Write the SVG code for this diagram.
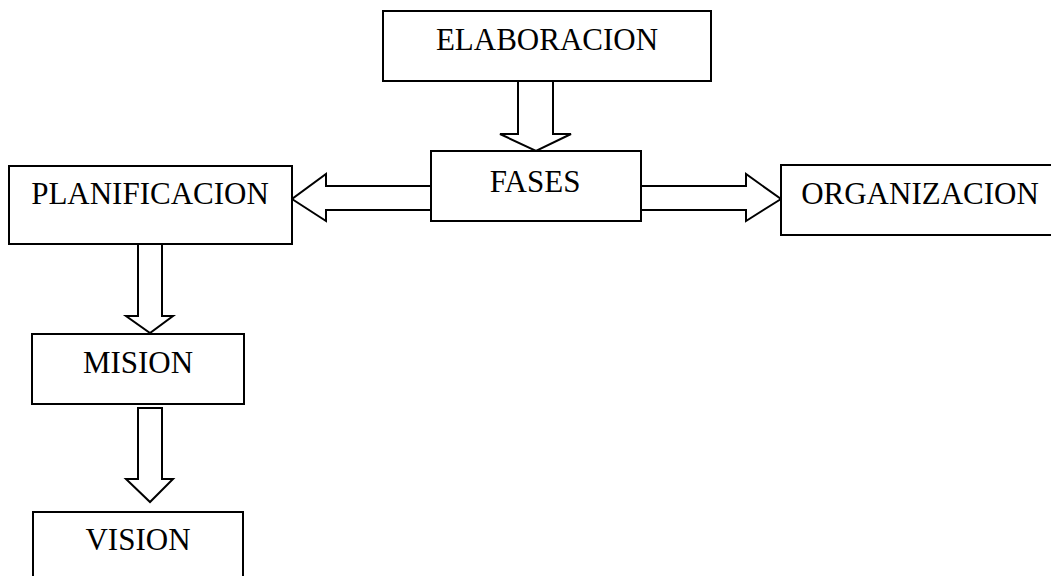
<svg xmlns="http://www.w3.org/2000/svg" width="1051" height="576" viewBox="0 0 1051 576">
<style>
.box{fill:#fff;stroke:#000;stroke-width:2}
.arr{fill:#fff;stroke:#000;stroke-width:2;stroke-linejoin:miter}
.lbl{font-family:"Liberation Serif","Times New Roman",serif;font-size:31px;fill:#000;text-anchor:middle}
</style>
<rect width="1051" height="576" fill="#fff"/>
<g id="connectors">
<path class="arr" d="M518,81 V134 H500 L536,151 L571,134 H553 V81"/>
<path class="arr" d="M431,186 H326 V174 L292,199 L326,221 V210 H431"/>
<path class="arr" d="M641,186 H746 V174 L781,199 L746,221 V210 H641"/>
<path class="arr" d="M138,244 V316 H126 L150,333 L173,316 H162 V244"/>
<path class="arr" d="M138,408 V479 H126 L150,502 L173,479 H162 V408 Z"/>
</g>
<g id="elaboracion">
<rect class="box" x="383" y="11" width="328" height="70"/>
<text class="lbl" x="547" y="50">ELABORACION</text>
</g>
<g id="fases">
<rect class="box" x="431" y="151" width="210" height="70"/>
<text class="lbl" x="535" y="192">FASES</text>
</g>
<g id="planificacion">
<rect class="box" x="9" y="166" width="283" height="78"/>
<text class="lbl" x="150" y="204">PLANIFICACION</text>
</g>
<g id="organizacion">
<rect class="box" x="781" y="165" width="280" height="70"/>
<text class="lbl" x="920" y="204">ORGANIZACION</text>
</g>
<g id="mision">
<rect class="box" x="32" y="334" width="212" height="70"/>
<text class="lbl" x="138" y="373">MISION</text>
</g>
<g id="vision">
<rect class="box" x="33" y="512" width="210" height="80"/>
<text class="lbl" x="138" y="550">VISION</text>
</g>
</svg>
